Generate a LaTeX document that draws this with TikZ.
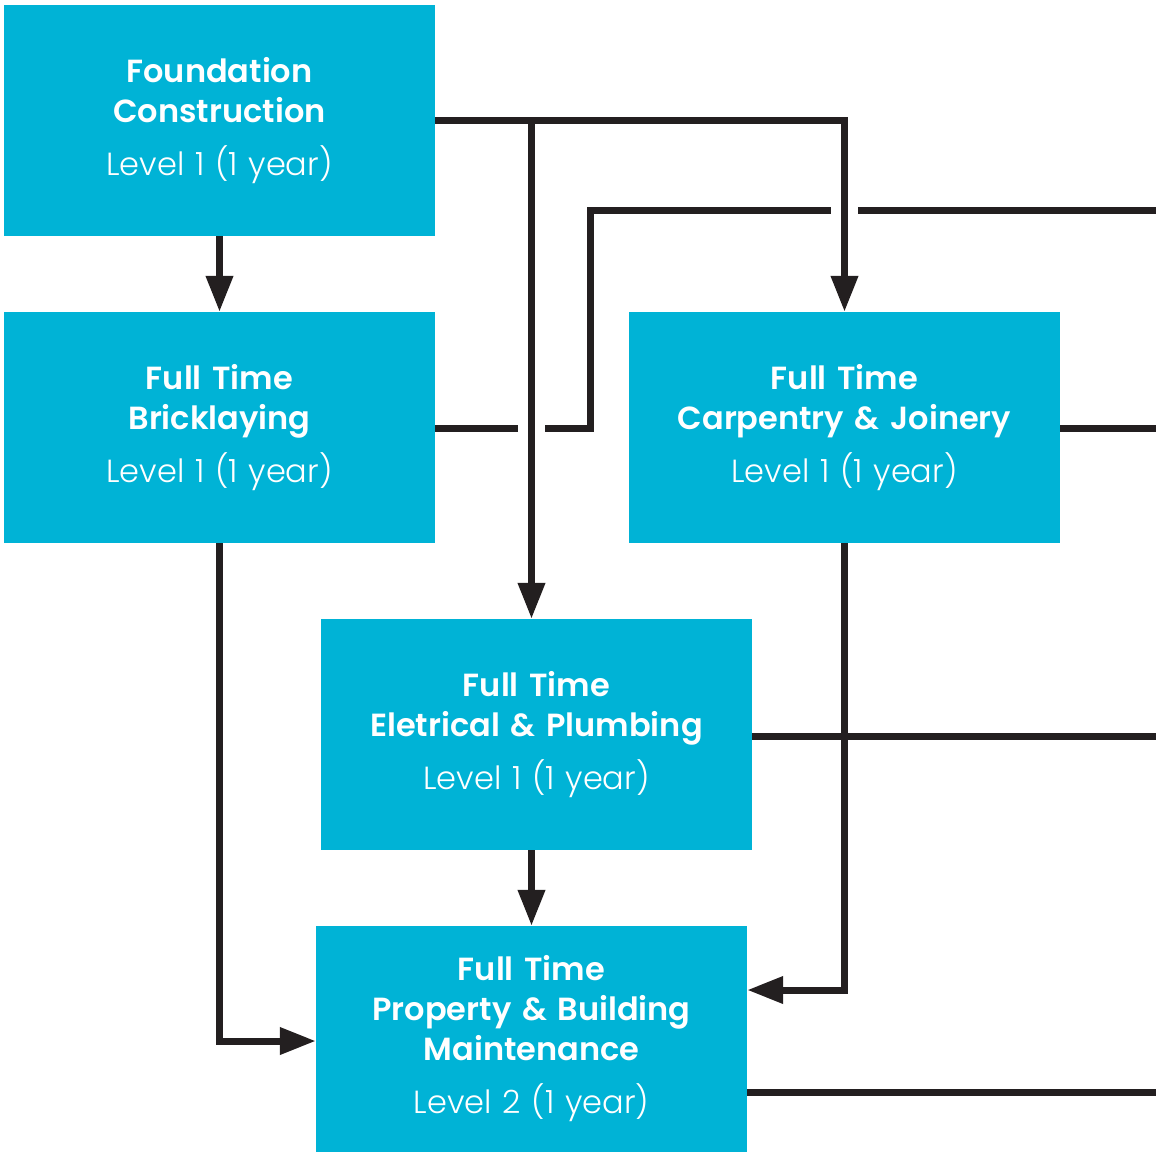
\documentclass[tikz,border=0pt]{standalone}
\usepackage{fontspec}
\setmainfont{Poppins}
\newfontfamily\titlefont{Poppins SemiBold}
\newfontfamily\levelfont{Poppins Light}
\usepackage{xcolor}
\definecolor{CourseBlue}{HTML}{00B3D6}
\definecolor{LinkBlack}{HTML}{231F20}
\usetikzlibrary{arrows.meta, positioning}

\tikzset{
  course/.style={fill=CourseBlue, text=white, inner sep=0pt, align=center,
    text width=431pt, minimum width=431pt, minimum height=231pt,
    font=\fontsize{32}{40}\selectfont},
  link/.style={draw=LinkBlack, line width=7pt},
  linkto/.style={link, -{Triangle[length=36pt,width=26pt]}},
}
\newcommand{\crs}[2]{{\titlefont #1}\\[13pt]{\levelfont #2}}

\begin{document}
\begin{tikzpicture}[x=1pt, y=-1pt]
  \useasboundingbox (0,0) rectangle (1156,1152);

  \node[course] (found) at (219.5,120.5) {\crs{Foundation\\Construction}{Level 1 (1 year)}};
  \node[course] (brick) at (219.5,427.5) {\crs{Full Time\\Bricklaying}{Level 1 (1 year)}};
  \node[course] (carp)  at (844.5,427.5) {\crs{Full Time\\Carpentry \& Joinery}{Level 1 (1 year)}};
  \node[course] (elec)  at (536.5,734.5) {\crs{Full Time\\Eletrical \& Plumbing}{Level 1 (1 year)}};
  \node[course, minimum height=226pt] (prop) at (531.5,1039)
    {\crs{Full Time\\Property \& Building\\Maintenance}{Level 2 (1 year)}};

  \coordinate (exitA) at (1156,210);
  \coordinate (exitB) at (1156,428);
  \coordinate (exitC) at (1156,736);
  \coordinate (exitD) at (1156,1092);
  \coordinate (bend) at (590,428);

  % bricklaying line, bridged under the two drops
  \draw[link] (brick.east |- bend) -- (bend) |- (exitA);
  \fill[white] (518,420) rectangle (545,436);
  \fill[white] (831,202) rectangle (858,218);

  \draw[linkto] (found.south) -- (brick.north);
  \draw[linkto] (found.east) -| (carp.north);
  \draw[linkto] (found.east -| prop.north) -- (prop.north |- elec.north);
  \draw[linkto] (prop.north |- elec.south) -- (prop.north);
  \draw[linkto] (brick.south) |- (prop.west |- 0,1041);
  \draw[linkto] (carp.south) |- (prop.east |- 0,990);

  \draw[link] (carp.east |- exitB) -- (exitB);
  \draw[link] (elec.east |- exitC) -- (exitC);
  \draw[link] (prop.east |- exitD) -- (exitD);
\end{tikzpicture}
\end{document}
